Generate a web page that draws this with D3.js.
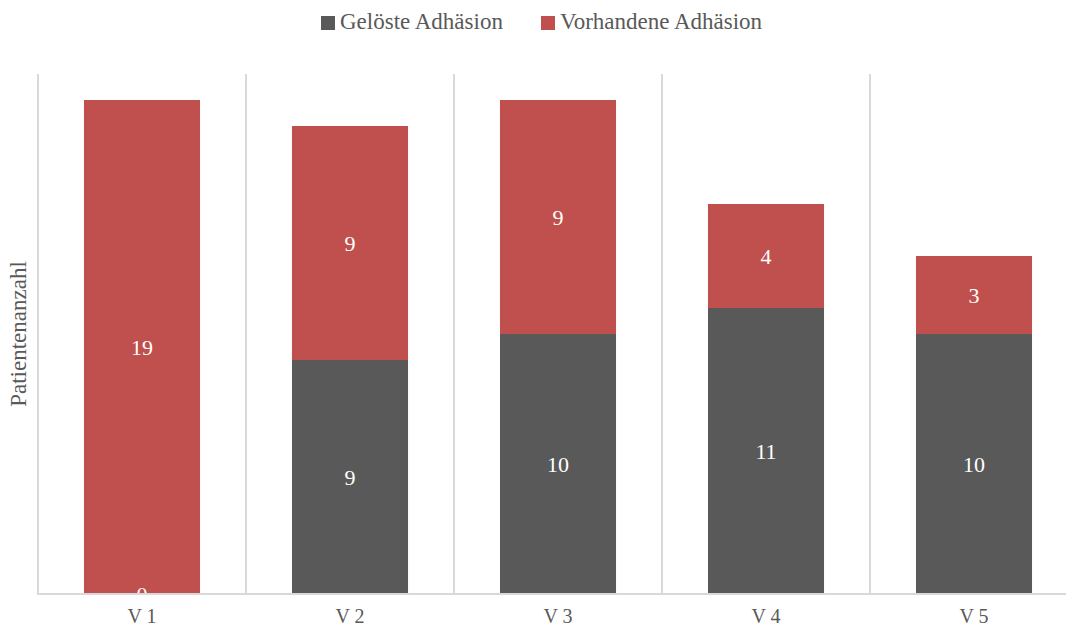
<!DOCTYPE html>
<html>
<head>
<meta charset="utf-8">
<script src="https://cdn.jsdelivr.net/npm/d3@7"></script>
<style>
  html, body { margin: 0; padding: 0; background: #fff; }
</style>
</head>
<body>
<svg id="chart" width="1066" height="628"></svg>
<script>
// Visits and patient counts per adhesion status
const categories = ["V 1", "V 2", "V 3", "V 4", "V 5"];
const seriesNames = ["Gelöste Adhäsion", "Vorhandene Adhäsion"];
const geloest = [0, 9, 10, 11, 10];
const vorhanden = [19, 9, 9, 4, 3];
const yAxisTitle = "Patientenanzahl";

const colors = ["#595959", "#C0504D"];
const FONT = '"Liberation Serif", "Times New Roman", serif';

const svg = d3.select("#chart");
const margin = { left: 38, top: 74, bottom: 594 };
const bandWidth = 208;

const x = d3.scaleBand()
  .domain(categories)
  .range([margin.left, margin.left + bandWidth * categories.length])
  .paddingInner(0.442)
  .paddingOuter(0.221);

const y = d3.scaleLinear().domain([0, 20]).range([margin.bottom, margin.top]);

// Category separators (vertical gridlines)
const step = x.step();
const grid = svg.append("g");
categories.forEach((c, i) => {
  const gx = x.range()[0] + i * step;
  grid.append("line")
    .attr("x1", gx).attr("x2", gx)
    .attr("y1", y(20)).attr("y2", y(0))
    .attr("stroke", "#d9d9d9").attr("stroke-width", 2);
});

// Stacked data
const rows = categories.map((c, i) => ({ cat: c, g: geloest[i], v: vorhanden[i] }));
const stack = d3.stack().keys(["g", "v"]);
const layers = stack(rows);

const barG = svg.append("g");
layers.forEach((layer, li) => {
  barG.selectAll(null)
    .data(layer)
    .enter()
    .append("rect")
    .attr("x", d => x(d.data.cat))
    .attr("width", x.bandwidth())
    .attr("y", d => y(d[1]))
    .attr("height", d => y(d[0]) - y(d[1]))
    .attr("fill", colors[li]);
});

// Baseline axis
const xAxis = svg.append("g")
  .attr("transform", `translate(0,${y(0)})`)
  .call(d3.axisBottom(x).tickSize(0).tickPadding(15));
xAxis.select(".domain")
  .attr("d", `M${margin.left - 1},0H1066`)
  .attr("stroke", "#d9d9d9").attr("stroke-width", 2);
xAxis.selectAll("text")
  .attr("fill", "#595959")
  .style("font-size", "20px")
  .style("font-family", FONT);

// Value labels inside segments
layers.forEach(layer => {
  barG.selectAll(null)
    .data(layer)
    .enter()
    .append("text")
    .attr("x", d => x(d.data.cat) + x.bandwidth() / 2)
    .attr("y", d => (y(d[0]) + y(d[1])) / 2)
    .attr("dy", "0.35em")
    .attr("text-anchor", "middle")
    .attr("fill", "#ffffff")
    .style("font-family", FONT)
    .style("font-size", "22px")
    .text(d => d[1] - d[0]);
});

// Y axis title
svg.append("text")
  .attr("transform", `translate(26,${(y(0) + y(20)) / 2}) rotate(-90)`)
  .attr("text-anchor", "middle")
  .attr("fill", "#595959")
  .style("font-family", FONT)
  .style("font-size", "23px")
  .text(yAxisTitle);

// Legend
const legend = svg.append("g");
const legendX = [321, 541];
seriesNames.forEach((name, i) => {
  legend.append("rect")
    .attr("x", legendX[i]).attr("y", 16)
    .attr("width", 14).attr("height", 14)
    .attr("fill", colors[i]);
  legend.append("text")
    .attr("x", legendX[i] + 19).attr("y", 29)
    .attr("fill", "#595959")
    .style("font-family", FONT)
    .style("font-size", "23px")
    .text(name);
});
</script>
</body>
</html>
